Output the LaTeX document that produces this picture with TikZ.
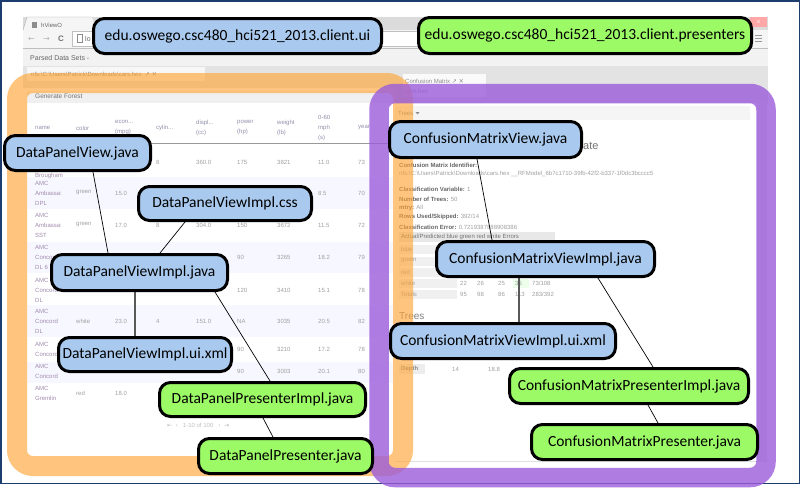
\documentclass[tikz,border=0pt]{standalone}
\usepackage{fontspec}
\setmainfont{Carlito}
\newfontfamily\uifont{Liberation Sans}
\newfontfamily\symfont{DejaVu Sans}
\definecolor{vblue}{HTML}{A9CAEE}
\definecolor{pgreen}{HTML}{9CFA66}
\definecolor{navy}{HTML}{1C3D6E}
\definecolor{orng}{HTML}{FFA332}
\definecolor{purp}{HTML}{9B5CDB}
\definecolor{txtg}{HTML}{A0A0A0}
\definecolor{hdrg}{HTML}{9090AC}
\definecolor{namec}{HTML}{A08CAC}
\definecolor{lblg}{HTML}{666666}
\pgfdeclarelayer{shot}
\pgfdeclarelayer{frames}
\pgfdeclarelayer{links}
\pgfsetlayers{shot,frames,links,main}
\tikzset{
  pkg/.style={draw=black, line width=3pt, rounded corners=11pt, inner sep=0pt,
    font=\fontsize{15.5}{18}\selectfont, text=black},
  viewbox/.style={pkg, fill=vblue},
  presbox/.style={pkg, fill=pgreen},
  link/.style={line width=0.7pt, draw=black},
  vlink/.style={line width=1.6pt, draw=black!65},
  cell/.style={font=\uifont\fontsize{6}{7}\selectfont, text=txtg, inner sep=0pt, anchor=west},
  namecell/.style={font=\uifont\fontsize{6}{10}\selectfont, text=namec, inner sep=0pt, anchor=west, align=left},
  hdrcell/.style={font=\uifont\fontsize{6}{10}\selectfont, text=hdrg, inner sep=0pt, anchor=west, align=left},
  rtxt/.style={font=\uifont\fontsize{6}{7}\selectfont, text=txtg, inner sep=0pt, anchor=west},
  rlbl/.style={font=\uifont\bfseries\fontsize{6}{7}\selectfont, text=lblg, inner sep=0pt, anchor=west},
  chrome/.style={font=\uifont\fontsize{7}{8}\selectfont, text=black!60, inner sep=0pt, anchor=west},
}
\begin{document}
\begin{tikzpicture}[x=1pt,y=-1pt]
\useasboundingbox (0,0) rectangle (802,488);

% ---------------- package / class nodes ----------------
\node[viewbox, minimum width=288pt, minimum height=35pt] (ui) at (237.5,36) {edu.oswego.csc480\_hci521\_2013.client.ui};
\node[presbox, minimum width=333pt, minimum height=36pt] (pres) at (585,35.5) {edu.oswego.csc480\_hci521\_2013.client.presenters};
\node[viewbox, minimum width=146pt, minimum height=35pt] (dpv) at (77.5,153) {DataPanelView.java};
\node[viewbox, minimum width=173pt, minimum height=34pt] (dpcss) at (225,203.5) {DataPanelViewImpl.css};
\node[viewbox, minimum width=176pt, minimum height=36pt] (dpvi) at (139.5,272.5) {DataPanelViewImpl.java};
\node[viewbox, minimum width=173pt, minimum height=34pt] (dpxml) at (145,354.5) {DataPanelViewImpl.ui.xml};
\node[presbox, minimum width=206pt, minimum height=34pt] (dppi) at (262.5,399.5) {DataPanelPresenterImpl.java};
\node[presbox, minimum width=174pt, minimum height=35pt] (dpp) at (285.5,456) {DataPanelPresenter.java};
\node[viewbox, minimum width=192pt, minimum height=36pt] (cmv) at (485.5,139.5) {ConfusionMatrixView.java};
\node[viewbox, minimum width=218pt, minimum height=35pt] (cmvi) at (545.5,259) {ConfusionMatrixViewImpl.java};
\node[viewbox, minimum width=225pt, minimum height=35pt] (cmxml) at (503,341) {ConfusionMatrixViewImpl.ui.xml};
\node[presbox, minimum width=239pt, minimum height=35pt] (cmpi) at (629,386) {ConfusionMatrixPresenterImpl.java};
\node[presbox, minimum width=226pt, minimum height=35pt] (cmp) at (644.5,442) {ConfusionMatrixPresenter.java};

% ---------------- connectors ----------------
\begin{pgfonlayer}{links}
\draw[link] ([xshift=15.5pt]dpv.south) -- ([xshift=-31.5pt]dpvi.north);
\draw[link] ([xshift=-40pt]dpcss.south) -- ([xshift=20.5pt]dpvi.north);
\draw[vlink] ([xshift=-4.5pt]dpvi.south) -- ([xshift=-10pt]dpxml.north);
\draw[link] ([xshift=75.5pt]dpvi.south) -- ([xshift=7.5pt]dppi.north);
\draw[link] ([xshift=0.5pt]dppi.south) -- ([xshift=-12.5pt]dpp.north);
\draw[link] ([xshift=-8.5pt]cmv.south) -- ([xshift=-53.5pt]cmvi.north);
\draw[vlink] ([xshift=-26.5pt]cmvi.south) -- ([xshift=16pt]cmxml.north);
\draw[link] ([xshift=52.5pt]cmvi.south) -- ([xshift=24pt]cmpi.north);
\draw[link] ([xshift=19pt]cmpi.south) -- ([xshift=13.5pt]cmp.north);
\end{pgfonlayer}

% ---------------- highlight frames ----------------
\begin{pgfonlayer}{frames}
\draw[orng, opacity=0.62, line width=20pt, rounded corners=16pt] (17,83) rectangle (403,466);
\draw[purp, opacity=0.8, line width=19.5pt, rounded corners=16pt] (379,93.5) rectangle (766,477.5);
\end{pgfonlayer}

% ---------------- screenshot ----------------
\begin{pgfonlayer}{shot}
\fill[white] (0,0) rectangle (802,488);
% title bar
\fill[black!14] (23,17) rectangle (768,30);
\fill[black!4] (23,30) -- (27,17) -- (92,17) -- (96,30) -- cycle;
\draw[black!35] (23,30) -- (27,17) -- (92,17);
\fill[red!35!white] (750,17) rectangle (767,27);
\node[font=\uifont\fontsize{6}{6}\selectfont, text=white, inner sep=0pt] at (758.5,22) {x};
\fill[black!45] (32,22) rectangle (37,28);
\node[chrome, font=\uifont\fontsize{6}{7}\selectfont] at (41,25) {hViewO};
% toolbar
\fill[black!4] (23,30) rectangle (768,48);
\node[chrome, text=black!30, font=\symfont\fontsize{8}{8}\selectfont] at (28,39) {←};
\node[chrome, text=black!30, font=\symfont\fontsize{8}{8}\selectfont] at (43,39) {→};
\node[chrome, text=black!55, font=\uifont\bfseries\fontsize{8}{8}\selectfont] at (58,39) {C};
\draw[black!25, fill=white] (72,31.5) rectangle (752,46.5);
\draw[black!45] (77,34.5) rectangle (82,42.5);
\node[chrome] at (85,39) {lo};
\foreach \yy in {35.5,38.5,41.5} \draw[black!40] (755,\yy) -- (762,\yy);
\draw[black!25] (23,48) -- (768,48);
% parsed data sets bar
\fill[black!5] (23,48.5) rectangle (768,66);
\node[chrome, font=\uifont\fontsize{7}{8}\selectfont] at (30,58) {Parsed Data Sets -};
% tab strip
\fill[black!11] (23,66) rectangle (768,103);
\fill[black!3] (27,67) rectangle (205,81);
\node[chrome, text=black!45, font=\uifont\fontsize{6}{7}\selectfont] at (31,74) {nfs:\textbackslash C:\textbackslash Users\textbackslash Patrick\textbackslash Downloads\textbackslash cars.hex\ \ {\symfont↗ ✕}};
\fill[black!2] (403,74) rectangle (486,97);
\node[chrome, text=black!45, font=\uifont\fontsize{6}{7}\selectfont] at (405,81) {Confusion Matrix {\symfont↗ ✕}};
\node[chrome, text=black!40, font=\uifont\fontsize{6}{7}\selectfont] at (405,91) {cars.hex};
% left panel
\fill[white] (23,88) rectangle (395,461);
\fill[black!6] (27,91) rectangle (393,103);
\node[chrome, text=black!55, font=\uifont\fontsize{6.5}{7}\selectfont] at (35,96.5) {Generate Forest};
% right panel
\fill[white] (389,103) rectangle (767,461);
\fill[black!9] (757,103) rectangle (767,461);
\draw[black!12] (395,461) -- (767,461);
\fill[black!4] (395,106) rectangle (750,120);
\node[chrome, text=black!45, font=\uifont\fontsize{6}{7}\selectfont] at (398,113) {Trees};
\fill[black!45] (415.5,112) -- (419.5,112) -- (417.5,114.5) -- cycle;
% table rows
\fill[blue!3] (27,177) rectangle (393,209);
\fill[blue!3] (27,242) rectangle (393,273);
\fill[blue!3] (27,305) rectangle (393,337);
\fill[blue!3] (27,362) rectangle (393,383);
\draw[black!40] (27,143) -- (393,143);
% header
\node[hdrcell] at (35,128) {name};
\node[hdrcell] at (76,128) {color};
\node[hdrcell] at (115,128) {econ...\\(mpg)};
\node[hdrcell] at (156,128) {cylin...};
\node[hdrcell] at (196,128) {displ...\\(cc)};
\node[hdrcell] at (237,128) {power\\(hp)};
\node[hdrcell] at (277,128) {weight\\(lb)};
\node[hdrcell] at (318,128) {0-60\\mph\\(s)};
\node[hdrcell] at (358,128) {year};
% names
\node[namecell] at (35,176) {Brougham};
\node[namecell] at (35,193) {AMC\\Ambassa:\\DPL};
\node[namecell] at (35,225) {AMC\\Ambassa:\\SST};
\node[namecell] at (35,257) {AMC\\Concord\\DL 6};
\node[namecell] at (35,290) {AMC\\Concord\\DL};
\node[namecell] at (35,321) {AMC\\Concord\\DL};
\node[namecell] at (35,349) {AMC\\Concord};
\node[namecell] at (35,371) {AMC\\Concord};
\node[namecell] at (35,393) {AMC\\Gremlin};
% values
\foreach \cx/\cy/\ct in {
  156/162/8, 196/162/360.0, 237/162/175, 277/162/3821, 318/162/11.0, 358/162/73,
  76/193/green, 115/193/15.0, 318/193/8.5, 358/193/70,
  76/225/green, 115/225/17.0, 156/225/8, 196/225/304.0, 237/225/150, 277/225/3672, 318/225/11.5, 358/225/72,
  237/257/90, 277/257/3265, 318/257/18.2, 358/257/79,
  237/290/120, 277/290/3410, 318/290/15.1, 358/290/78,
  76/321/white, 115/321/23.0, 156/321/4, 196/321/151.0, 237/321/NA, 277/321/3035, 318/321/20.5, 358/321/82,
  237/349/90, 277/349/3210, 318/349/17.2, 358/349/78,
  237/371/90, 277/371/3003, 318/371/20.1, 358/371/80,
  76/393/red, 115/393/18.0}
  \node[cell] at (\cx,\cy) {\ct};
\node[cell, text=black!25] at (167,425) {{\symfont⇤}\ \ {\symfont‹}\ \ \ 1-10 of 100\ \ \ {\symfont›}\ \ {\symfont⇥}};
% confusion matrix panel text
\node[font=\uifont\fontsize{11}{12}\selectfont, text=black!55, inner sep=0pt, anchor=west] at (583,146) {ate};
\node[rlbl] at (399,165) {Confusion Matrix Identifier:};
\node[rtxt] at (399,174) {nfs:\textbackslash C:\textbackslash Users\textbackslash Patrick\textbackslash Downloads\textbackslash cars.hex \_\_RFModel\_6b7c1710-39fb-42f2-b337-1f0dc3bcccc5};
\node[rlbl] at (399,189) {Classification Variable: \mdseries\color{txtg}1};
\node[rlbl] at (399,199) {Number of Trees: \mdseries\color{txtg}50};
\node[rlbl] at (399,208) {mtry: \mdseries\color{txtg}All};
\node[rlbl] at (399,217) {Rows Used/Skipped: \mdseries\color{txtg}392/14};
\node[rlbl] at (399,227) {Classification Error: \mdseries\color{txtg}0.7219387888908386};
\fill[black!9] (399,232) rectangle (555,242);
\node[rtxt, text=black!55] at (401,237) {Actual/Predicted blue green red white Errors};
\foreach \ry/\rl in {249/blue, 261/green, 272/red, 283/white, 294/Totals}{
  \fill[black!6] (399,\ry-4.5) rectangle (457,\ry+4.5);
  \node[rtxt] at (401,\ry) {\rl};
}
\fill[green!8] (513,278.5) rectangle (529,287.5);
\foreach \vx/\vy/\vt in {460/283/22, 477/283/26, 498/283/25, 515/283/35, 460/294/95, 477/294/98, 498/294/86, 515/294/113}
  \node[rtxt] at (\vx,\vy) {\vt};
\node[rtxt] at (532,283) {73/108};
\node[rtxt] at (532,294) {283/392};
\node[font=\uifont\fontsize{10}{11}\selectfont, text=black!50, inner sep=0pt, anchor=west] at (399,316) {Trees};
\fill[black!7] (399,364) rectangle (425,374);
\node[rlbl, text=black!45] at (401,369) {Depth};
\node[rtxt] at (452,369) {14};
\node[rtxt] at (488,369) {18.8};
% outer frame
\draw[navy, line width=1.6pt] (1,1) rectangle (799.5,483.5);
\end{pgfonlayer}
\end{tikzpicture}
\end{document}
